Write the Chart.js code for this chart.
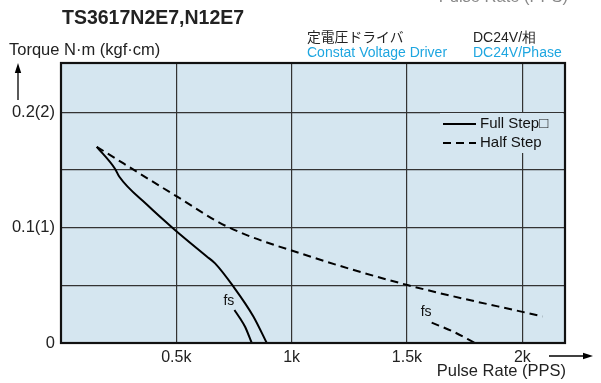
<!DOCTYPE html>
<html>
<head>
<meta charset="utf-8">
<script src="https://cdn.jsdelivr.net/npm/chart.js@4.4.1/dist/chart.umd.min.js"></script>
<style>
html, body { margin: 0; padding: 0; background: #fff; }
</style>
</head>
<body>
<canvas id="chart" width="601" height="383"></canvas>
<script>
const FONT = '"Liberation Sans", Arial, Helvetica, sans-serif';
const CJK_FONT = '"Noto Sans CJK JP", "Liberation Sans", sans-serif';
const CYAN = '#1ea6e0';
const PLOT_BG = '#d5e6f0';
const GRID = '#333';

// axis ticks / grid
const xGrid = [0, 500, 1000, 1500, 2000];
const xTickLabels = ['', '0.5k', '1k', '1.5k', '2k'];
const yGrid = [0, 0.05, 0.1, 0.15, 0.2];
const yTickLabels = ['0', '', '0.1(1)', '', '0.2(2)'];

// curves (x = PPS, y = N·m)
const fullStepX = [155, 234, 253, 372, 494, 632, 668, 747, 834, 892];
const fullStepY = [0.170, 0.151, 0.144, 0.120, 0.098, 0.075, 0.069, 0.049, 0.023, 0];
const fullFsX = [752, 776, 798, 827];
const fullFsY = [0.0286, 0.0214, 0.0141, 0];
const halfStepX = [155, 502, 719, 1080, 1506, 2087];
const halfStepY = [0.170, 0.127, 0.101, 0.075, 0.050, 0.023];
const halfFsX = [1607, 1701, 1795];
const halfFsY = [0.0176, 0.0098, 0];

// "fs" marks
const fsLabelX = [728, 1583];
const fsLabelY = [0.036, 0.027];

const toPoints = (xs, ys) => xs.map((x, i) => ({ x: x, y: ys[i] }));

function arrow(ctx, x1, y1, x2, y2) {
    const ang = Math.atan2(y2 - y1, x2 - x1);
    ctx.strokeStyle = '#000';
    ctx.fillStyle = '#000';
    ctx.lineWidth = 1.3;
    ctx.beginPath();
    ctx.moveTo(x1, y1);
    ctx.lineTo(x2 - 6 * Math.cos(ang), y2 - 6 * Math.sin(ang));
    ctx.stroke();
    ctx.beginPath();
    ctx.moveTo(x2, y2);
    ctx.lineTo(x2 - 10 * Math.cos(ang) - 3.2 * Math.sin(ang), y2 - 10 * Math.sin(ang) + 3.2 * Math.cos(ang));
    ctx.lineTo(x2 - 10 * Math.cos(ang) + 3.2 * Math.sin(ang), y2 - 10 * Math.sin(ang) - 3.2 * Math.cos(ang));
    ctx.closePath();
    ctx.fill();
}

const decor = {
    id: 'decor',
    beforeDraw(chart) {
        const { ctx, chartArea: a } = chart;
        ctx.save();
        ctx.fillStyle = '#fff';
        ctx.fillRect(0, 0, chart.width, chart.height);
        ctx.fillStyle = PLOT_BG;
        ctx.fillRect(a.left, a.top, a.right - a.left, a.bottom - a.top);
        ctx.restore();
    },
    afterDatasetsDraw(chart) {
        const { ctx, scales } = chart;
        ctx.save();
        // legend inside plot
        ctx.fillStyle = PLOT_BG;
        ctx.fillRect(440, 113, 123, 40);
        ctx.strokeStyle = '#000';
        ctx.lineWidth = 2;
        ctx.beginPath();
        ctx.moveTo(443, 124); ctx.lineTo(476, 124);
        ctx.stroke();
        ctx.setLineDash([8, 5]);
        ctx.beginPath();
        ctx.moveTo(443, 143); ctx.lineTo(476, 143);
        ctx.stroke();
        ctx.setLineDash([]);
        ctx.fillStyle = '#111';
        ctx.font = '15px ' + FONT;
        ctx.textBaseline = 'middle';
        ctx.fillText(chart.data.datasets[0].label, 480, 124);
        ctx.fillText(chart.data.datasets[2].label, 480, 143);

        // fs labels
        ctx.textAlign = 'center';
        ctx.font = '14px ' + FONT;
        fsLabelX.forEach((v, i) => {
            ctx.fillText('fs', scales.x.getPixelForValue(v), scales.y.getPixelForValue(fsLabelY[i]));
        });
        ctx.restore();
    },
    afterDraw(chart) {
        const { ctx, chartArea: a } = chart;
        ctx.save();
        // frame
        ctx.strokeStyle = '#111';
        ctx.lineWidth = 2.2;
        ctx.strokeRect(a.left, a.top, a.right - a.left, a.bottom - a.top);

        ctx.fillStyle = '#222';
        ctx.textBaseline = 'alphabetic';
        ctx.textAlign = 'left';
        ctx.font = 'bold 19.5px ' + FONT;
        ctx.fillText('TS3617N2E7,N12E7', 62, 24);

        ctx.font = '16.5px ' + FONT;
        ctx.fillText('Torque N\u00b7m (kgf\u00b7cm)', 9, 55);

        ctx.font = '13.8px ' + CJK_FONT;
        ctx.fillText('定電圧ドライバ', 307, 42);
        ctx.font = '14px ' + FONT;
        ctx.fillText('DC24V/相', 473, 42);
        ctx.fillStyle = CYAN;
        ctx.fillText('Constat Voltage Driver', 307, 57);
        ctx.fillText('DC24V/Phase', 473, 57);

        ctx.fillStyle = '#222';
        ctx.font = '16.5px ' + FONT;
        ctx.textAlign = 'right';
        ctx.fillText('Pulse Rate (PPS)', 566, 376);
        // cut-off caption at the very top
        ctx.fillStyle = '#888';
        ctx.fillText('Pulse Rate (PPS)', 568, 1.5);

        arrow(ctx, 18, 100, 18, 63);
        arrow(ctx, 549, 356, 593, 356);
        ctx.restore();
    }
};

new Chart(document.getElementById('chart'), {
    type: 'scatter',
    data: {
        datasets: [
            { label: 'Full Step\u25a1', data: toPoints(fullStepX, fullStepY) },
            { label: 'fs', data: toPoints(fullFsX, fullFsY) },
            { label: 'Half Step', data: toPoints(halfStepX, halfStepY), borderDash: [8, 5] },
            { label: 'fs', data: toPoints(halfFsX, halfFsY), borderDash: [8, 5] }
        ].map(d => Object.assign({
            showLine: true,
            borderColor: '#000',
            borderWidth: 2,
            pointRadius: 0,
            cubicInterpolationMode: 'monotone'
        }, d))
    },
    options: {
        responsive: false,
        animation: false,
        layout: { padding: { top: 63, right: 36, left: 0, bottom: 0 } },
        plugins: { legend: { display: false }, tooltip: { enabled: false } },
        scales: {
            x: {
                type: 'linear',
                min: 0,
                max: 2185,
                afterFit: s => { s.height = 40; },
                afterBuildTicks: s => { s.ticks = xGrid.map(v => ({ value: v })); },
                grid: { color: GRID, lineWidth: 1.2, drawTicks: false },
                border: { display: false },
                ticks: {
                    padding: 5,
                    color: '#222',
                    font: { family: FONT, size: 16 },
                    maxRotation: 0,
                    autoSkip: false,
                    callback: (v, i) => xTickLabels[i]
                }
            },
            y: {
                type: 'linear',
                min: 0,
                max: 0.2426,
                afterFit: s => { s.width = 61; },
                afterBuildTicks: s => { s.ticks = yGrid.map(v => ({ value: v })); },
                grid: { color: GRID, lineWidth: 1.2, drawTicks: false },
                border: { display: false },
                ticks: {
                    padding: 6,
                    color: '#222',
                    font: { family: FONT, size: 16.5 },
                    autoSkip: false,
                    callback: (v, i) => yTickLabels[i]
                }
            }
        }
    },
    plugins: [decor]
});
</script>
</body>
</html>
